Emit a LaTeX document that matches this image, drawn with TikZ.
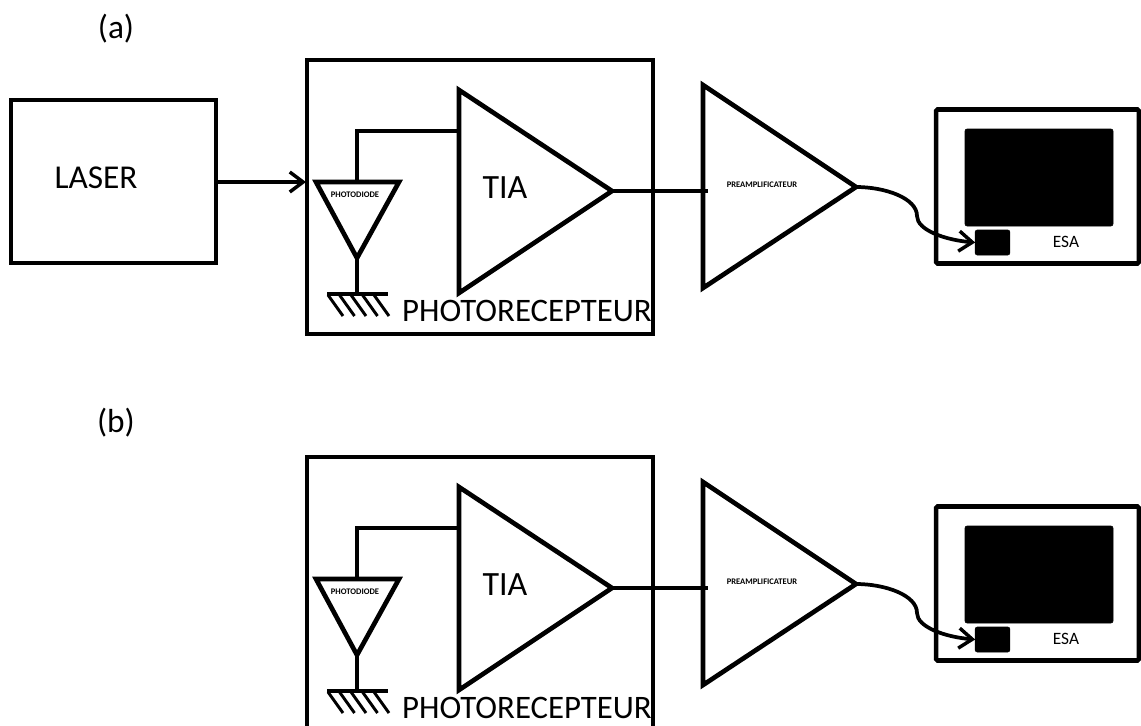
\documentclass[tikz,border=0pt]{standalone}
\usepackage{fontspec}
\setmainfont{Carlito}
\usetikzlibrary{arrows.meta}
\tikzset{
  wire/.style={line width=3.5pt,line join=miter},
  thin wire/.style={line width=2.8pt},
  tip/.style={-{Straight Barb[length=10pt,width=15pt,line width=2.6pt]}},
  frame/.style={draw,line width=2.8pt,inner sep=0pt,outer sep=0pt},
  heavy frame/.style={frame,line width=3.4pt,rounded corners=1pt},
  solid box/.style={fill=black,draw=black,rounded corners=1.5pt,inner sep=0pt,outer sep=0pt},
  lbl/.style={inner sep=0pt,outer sep=0pt,text=black},
  big/.style={lbl,font=\fontsize{25}{25}\selectfont},
  rxname/.style={lbl,font=\fontsize{24.6}{25}\selectfont},
  mid/.style={lbl,font=\fontsize{25.5}{25.5}\selectfont},
  micro/.style={lbl,font=\bfseries\fontsize{6.4}{6.4}\selectfont},
  small/.style={lbl,font=\fontsize{13}{13}\selectfont},
}
\newcommand{\panel}[2]{%
\begin{scope}[shift={(0,#2)}]
  \node[frame,minimum width=260pt,minimum height=205.5pt] (#1rx) at (480,197) {};
  % TIA
  \coordinate (#1ta) at (459,90);
  \coordinate (#1tb) at (612,191);
  \coordinate (#1tc) at (459,293);
  \draw[wire] (#1ta) -- (#1tb) -- (#1tc) -- cycle;
  \node[mid] (#1tia) at (505,188) {TIA};
  % photodiode
  \coordinate (#1pa) at (316,182);
  \coordinate (#1pb) at (399,182);
  \coordinate (#1pc) at (357,258);
  \coordinate (#1pt) at (357,182);
  \coordinate (#1tin) at (459,131);
  \draw[wire] (#1pa) -- (#1pb) -- (#1pc) -- cycle;
  \node[micro] (#1pd) at (355,195) {PHOTODIODE};
  \draw[thin wire] (#1pt) |- (#1tin);
  % ground
  \coordinate (#1gl) at (327,294);
  \coordinate (#1gr) at (388,294);
  \coordinate (#1gm) at (357,294);
  \draw[thin wire] (#1pc) -- (#1gm);
  \draw[thin wire] (#1gl) -- (#1gr);
  \foreach \gx in {328,339.5,351,362.5,374}
    \draw[line width=2.2pt] (\gx,295) -- (\gx+15,316);
  \node[rxname] (#1pr) at (527,311) {PHOTORECEPTEUR};
  % preamplifier
  \coordinate (#1aa) at (703,85);
  \coordinate (#1ab) at (856,187);
  \coordinate (#1ac) at (703,288);
  \coordinate (#1ain) at (708,191);
  \draw[wire] (#1aa) -- (#1ab) -- (#1ac) -- cycle;
  \node[micro] (#1am) at (762,185) {PREAMPLIFICATEUR};
  \draw[thin wire] (#1tb) -- (#1ain);
  % analyser
  \node[heavy frame,minimum width=152pt,minimum height=115.5pt] (#1esa) at (1037.5,186.5) {};
  \node[solid box,minimum width=111pt,minimum height=72.75pt] (#1sc) at (1039,177.5) {};
  \node[solid box,minimum width=26pt,minimum height=18.75pt] (#1in) at (992.5,242.5) {};
  \node[small] (#1el) at (1066,242) {ESA};
  \draw[thin wire,tip] (#1ab) .. controls (885,187) and (917,198) .. (917,216)
     .. controls (917,230) and (945,240) .. (#1in.west);
\end{scope}}
\begin{document}
\begin{tikzpicture}[x=0.75pt,y=-0.75pt]
  \clip (0,0) rectangle (1141,725);
  \fill[white] (0,0) rectangle (1141,725);
  \node[big] (la) at (116,29) {(a)};
  \node[big] (lb) at (116,423) {(b)};
  \node[frame,line width=3.2pt,minimum width=153.75pt,minimum height=122.25pt] (laser) at (113.5,181.5) {};
  \node[big] (lasert) at (96,178) {LASER};
  \panel{u}{0}
  \panel{v}{397}
  \coordinate (rxin) at (306,182);
  \draw[thin wire,tip] (laser.east |- rxin) -- (rxin);
\end{tikzpicture}
\end{document}
